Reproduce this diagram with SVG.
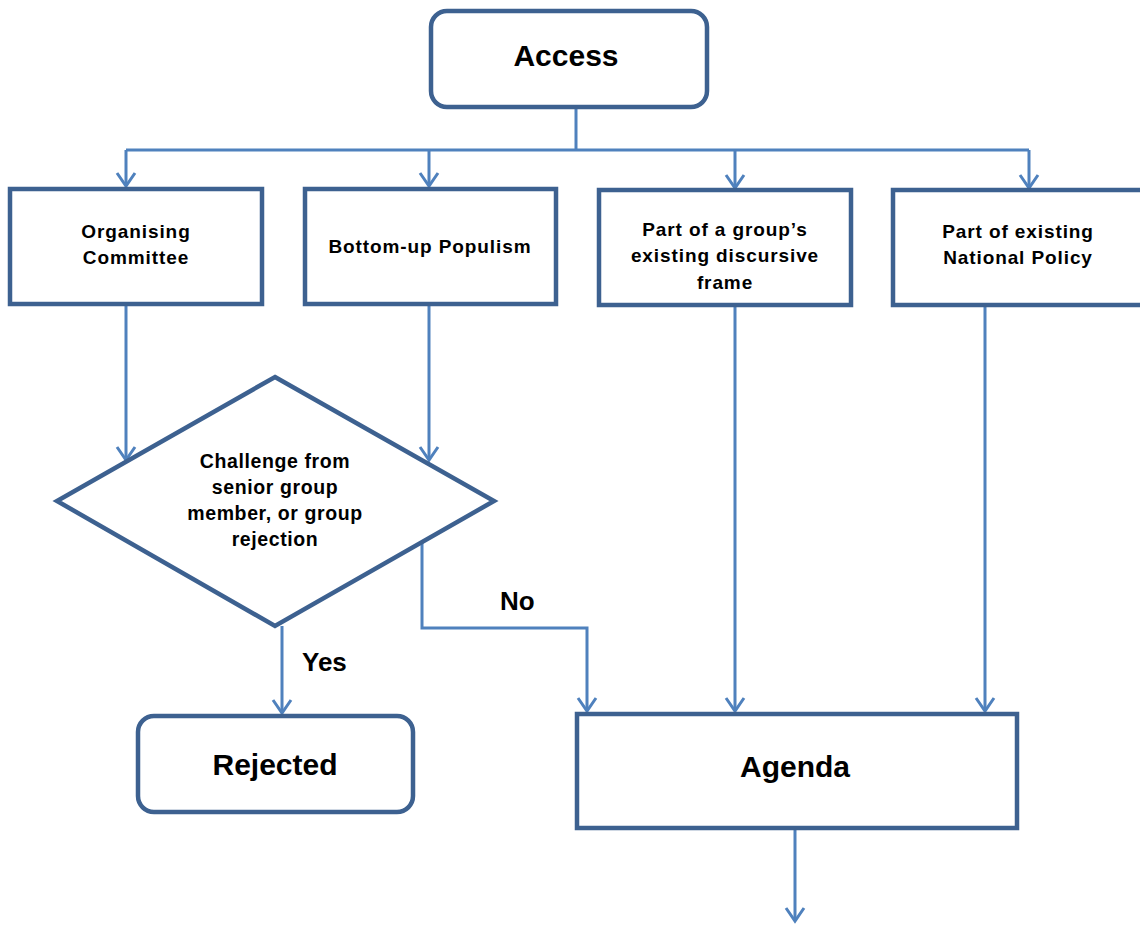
<svg xmlns="http://www.w3.org/2000/svg" width="1140" height="925" viewBox="0 0 1140 925">
<style>
.box{fill:#fff;stroke:#3D6190;stroke-width:4.5}
.con{fill:none;stroke:#4F81BD;stroke-width:3}
.t{font-family:"Liberation Sans",Arial,sans-serif;fill:#000;text-anchor:middle}
.big{font-size:30px;font-weight:bold}
.sm{font-size:19px;font-weight:bold;letter-spacing:0.9px}
.dm{font-size:19.5px;font-weight:bold;letter-spacing:0.6px}
.lbl{font-size:26px;font-weight:bold;text-anchor:start}
</style>
<defs>
<marker id="arr" markerUnits="userSpaceOnUse" markerWidth="30" markerHeight="30" viewBox="-15 -15 30 30" refX="0" refY="0" orient="auto" overflow="visible">
<path d="M-13,-9 L0,0 L-13,9" fill="none" stroke="#4F81BD" stroke-width="3"/>
</marker>
</defs>
<rect width="1140" height="925" fill="#fff"/>
<g id="connectors">
<path class="con" d="M576,107 V150"/>
<path class="con" d="M126,150 H1029"/>
<path class="con" d="M126,150 V186" marker-end="url(#arr)"/>
<path class="con" d="M429,150 V186" marker-end="url(#arr)"/>
<path class="con" d="M735,150 V188" marker-end="url(#arr)"/>
<path class="con" d="M1029,150 V188" marker-end="url(#arr)"/>
<path class="con" d="M126,304 V460" marker-end="url(#arr)"/>
<path class="con" d="M429,304 V460" marker-end="url(#arr)"/>
<path class="con" d="M282,626 V713" marker-end="url(#arr)"/>
<path class="con" d="M422,543 V628 H587 V711" marker-end="url(#arr)"/>
<path class="con" d="M735,305 V711" marker-end="url(#arr)"/>
<path class="con" d="M985,305 V711" marker-end="url(#arr)"/>
<path class="con" d="M795,828 V921" marker-end="url(#arr)"/>
<text class="t lbl" x="302" y="671">Yes</text>
<text class="t lbl" x="500" y="610">No</text>
</g>
<g id="access">
<rect class="box" x="431" y="11" width="276" height="96" rx="16"/>
<text class="t big" x="566" y="66">Access</text>
</g>
<g id="organising">
<rect class="box" x="10" y="189" width="252" height="115"/>
<text class="t sm" x="136" y="238">Organising</text>
<text class="t sm" x="136" y="264">Committee</text>
</g>
<g id="bottomup">
<rect class="box" x="305" y="189" width="251" height="115"/>
<text class="t sm" x="430" y="253">Bottom-up Populism</text>
</g>
<g id="discursive">
<rect class="box" x="599" y="190" width="252" height="115"/>
<text class="t sm" x="725" y="236">Part of a group’s</text>
<text class="t sm" x="725" y="262">existing discursive</text>
<text class="t sm" x="725" y="289">frame</text>
</g>
<g id="national">
<rect class="box" x="893" y="190" width="252" height="115"/>
<text class="t sm" x="1018" y="238">Part of existing</text>
<text class="t sm" x="1018" y="264">National Policy</text>
</g>
<g id="challenge">
<polygon class="box" points="275,377 494,501 275,626 57,501"/>
<text class="t dm" x="275" y="468">Challenge from</text>
<text class="t dm" x="275" y="494">senior group</text>
<text class="t dm" x="275" y="520">member, or group</text>
<text class="t dm" x="275" y="546">rejection</text>
</g>
<g id="rejected">
<rect class="box" x="138" y="716" width="275" height="96" rx="16"/>
<text class="t big" x="275" y="775">Rejected</text>
</g>
<g id="agenda">
<rect class="box" x="577" y="714" width="440" height="114"/>
<text class="t big" x="795" y="777">Agenda</text>
</g>
</svg>
